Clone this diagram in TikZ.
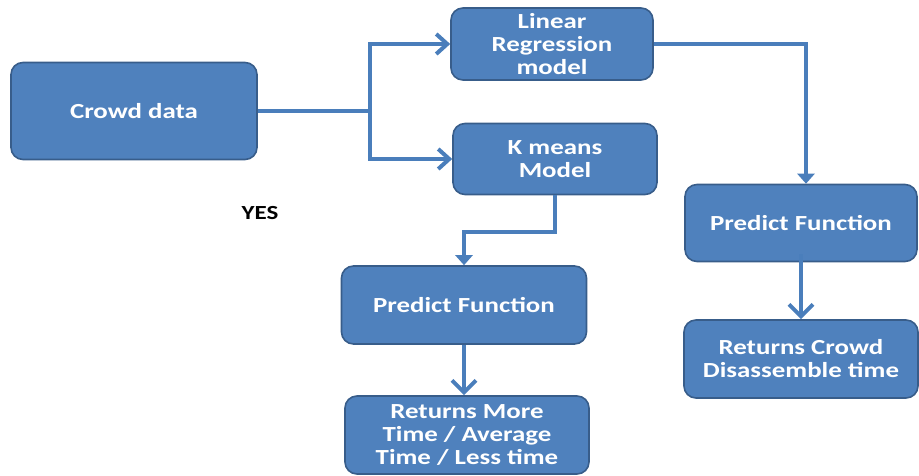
\documentclass[tikz,border=0pt]{standalone}
\usepackage{fontspec}
\setmainfont{Carlito}[FakeStretch=1.25]
\usetikzlibrary{arrows.meta, positioning, calc}
\definecolor{boxfill}{HTML}{4F81BD}
\definecolor{boxline}{HTML}{385D8A}
\definecolor{linkcol}{HTML}{4A7EBB}

\begin{document}
\begin{tikzpicture}[
  x=1pt, y=-1pt,
  font=\fontsize{21.5}{23}\selectfont\bfseries,
  box/.style ={rounded corners=12pt, draw=boxline, line width=1.6pt, fill=boxfill, text=white, align=center, inner sep=2pt},
  link/.style={draw=linkcol, line width=4pt},
  open/.style={link, -{Straight Barb[length=11pt, width=20pt]}},
  openv/.style={link, -{Straight Barb[length=12pt, width=24pt]}},
  solid/.style={link, -{Triangle[length=10pt, width=17pt]}},
]
\useasboundingbox (0,0) rectangle (919,475);

% ---------- boxes ----------
\node[box, minimum width=246pt, minimum height=97pt] (crowd) at (134,111) {Crowd data};
\node[box, minimum width=202pt, minimum height=72pt] (lr)    at (552,44)  {Linear\\Regression\\model};
\node[box, minimum width=204pt, minimum height=71pt] (km)    at (555,159) {K means\\Model};
\node[box, minimum width=232pt, minimum height=77pt] (predr) at (801,223) {Predict Function};
\node[box, minimum width=234pt, minimum height=78pt] (retr)  at (801,359) {Returns Crowd\\Disassemble time};
\node[box, minimum width=245pt, minimum height=78pt] (predl) at (464,305) {Predict Function};
\node[box, minimum width=244pt, minimum height=78pt] (retl)  at (467,435) {Returns More\\Time / Average\\Time / Less time};

\node[font=\fontsize{20}{22}\selectfont\bfseries] (yes) at (260,213) {YES};

% ---------- connectors ----------
\coordinate (bus) at (370,0);
\draw[link] (crowd.east) -- (crowd.east -| bus);
\draw[open] (crowd.east -| bus) |- (lr.west);
\draw[open] (crowd.east -| bus) |- (km.west);

\draw[solid] (lr.east) -| ([xshift=5pt]predr.north);
\draw[solid] (km.south) -- ++(0,37) -| (predl.north);

\draw[openv] (predl.south) -- (predl.south |- retl.north);
\draw[openv] ([yshift=8pt]predr.south) -- (predr.south |- retr.north);

\end{tikzpicture}
\end{document}
